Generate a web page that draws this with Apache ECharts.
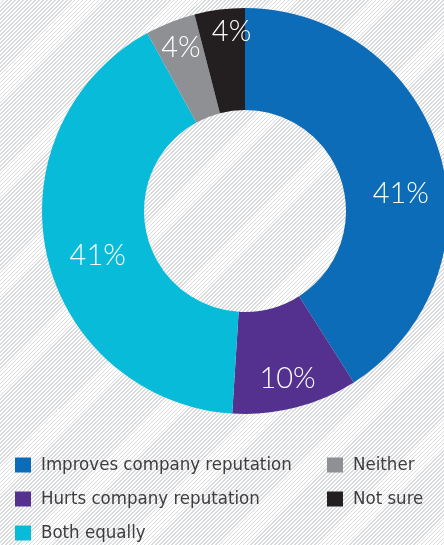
<!DOCTYPE html>
<html>
<head>
<meta charset="utf-8">
<script src="https://cdn.jsdelivr.net/npm/echarts@6/dist/echarts.min.js"></script>
<style>
  html, body { margin: 0; padding: 0; }
  #chart {
    width: 444px; height: 545px;
    background: repeating-linear-gradient(-45deg, #ffffff 0px, #ffffff 1.6px, #d9dadc 1.6px, #d9dadc 2.8px);
  }
</style>
</head>
<body>
<div id="chart"></div>
<script>
// 图例名称、百分比、颜色
const categories = ['Improves company reputation', 'Hurts company reputation', 'Both equally', 'Neither', 'Not sure']
const values = [41, 10, 41, 4, 4]
const colors = ['#0d6cb8', '#54318f', '#08bcd9', '#8e9094', '#231f20']
// label offsets, tuned by eye
const labelOffsets = [[7, 26], [4, 18], [4, 11], [-7, -19], [6, -26]]

var myChart = echarts.init(document.getElementById('chart'));

const legendText = { fontFamily: 'DejaVu Sans Condensed', fontSize: 18.5, lineHeight: 20, color: '#3d3d3f', padding: [0, 0, 0, 5] }

var option = {
  animation: false,
  legend: [
    {
      data: categories.slice(0, 3),
      orient: 'vertical',
      left: 15, top: 455, height: 100, padding: 0,
      itemWidth: 16, itemHeight: 15, itemGap: 14,
      icon: 'rect',
      textStyle: legendText
    },
    {
      data: categories.slice(3),
      orient: 'vertical',
      left: 327, top: 455, height: 100, padding: 0,
      itemWidth: 16, itemHeight: 15, itemGap: 14,
      icon: 'rect',
      textStyle: legendText
    }
  ],
  series: [
    {
      type: 'pie',
      center: [245, 211],
      radius: [101, 203],
      startAngle: 90,
      clockwise: true,
      avoidLabelOverlap: false,
      itemStyle: { borderWidth: 0 },
      labelLayout: { hideOverlap: false },
      label: {
        show: true,
        position: 'inside',
        formatter: '{c}%',
        color: '#ffffff',
        fontFamily: 'Lato',
        fontWeight: 300,
        fontSize: 29
      },
      labelLine: { show: false },
      emphasis: { disabled: true },
      data: categories.map((name, i) => ({
        name: name,
        value: values[i],
        itemStyle: { color: colors[i] },
        label: { offset: labelOffsets[i] }
      }))
    }
  ]
};

myChart.setOption(option);
</script>
</body>
</html>
